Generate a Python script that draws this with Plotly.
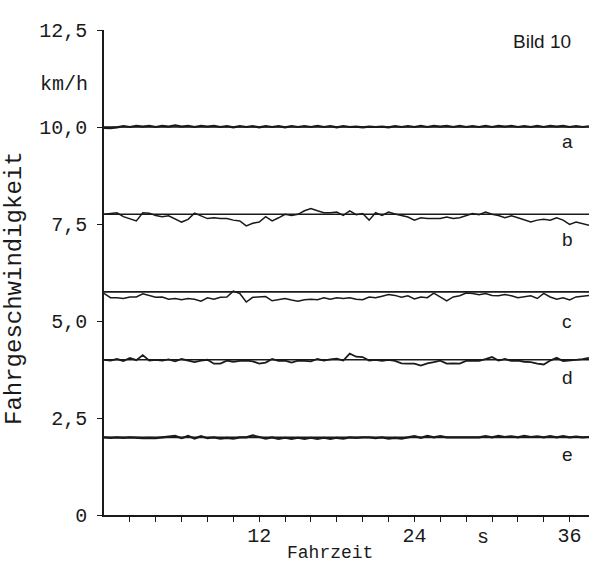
import plotly.graph_objects as go

# ---- data ----
time_s = [i * 0.5 for i in range(76)]  # sample times 0 .. 37.5 s

speed_a = [9.98, 9.97, 9.99, 10.02, 10.00, 10.03, 10.01, 10.03, 10.00, 10.03,
           10.01, 10.04, 10.01, 10.03, 10.00, 10.03, 10.01, 10.03, 10.00, 10.02,
           9.99, 10.02, 10.00, 10.02, 9.99, 10.02, 10.00, 10.02, 9.99, 10.02,
           10.00, 10.02, 10.00, 10.03, 10.00, 10.02, 9.99, 10.02, 10.00, 10.01,
           9.99, 10.01, 10.00, 10.01, 9.99, 10.02, 10.00, 10.02, 10.00, 10.03,
           10.00, 10.03, 10.01, 10.03, 10.00, 10.03, 10.00, 10.02, 10.00, 10.03,
           10.00, 10.03, 10.01, 10.03, 10.00, 10.02, 10.00, 10.03, 10.00, 10.03,
           10.01, 10.03, 10.00, 10.02, 10.00, 10.02]

speed_b = [7.75, 7.77, 7.79, 7.69, 7.64, 7.58, 7.79, 7.78, 7.72, 7.69,
           7.71, 7.64, 7.55, 7.62, 7.78, 7.71, 7.64, 7.66, 7.64, 7.64,
           7.60, 7.58, 7.45, 7.52, 7.55, 7.69, 7.58, 7.66, 7.75, 7.72,
           7.75, 7.84, 7.90, 7.84, 7.79, 7.79, 7.81, 7.72, 7.84, 7.74,
           7.77, 7.60, 7.79, 7.72, 7.81, 7.76, 7.72, 7.68, 7.60, 7.66,
           7.64, 7.64, 7.64, 7.68, 7.64, 7.66, 7.72, 7.77, 7.74, 7.81,
           7.75, 7.72, 7.66, 7.71, 7.66, 7.60, 7.55, 7.60, 7.62, 7.60,
           7.66, 7.60, 7.49, 7.55, 7.51, 7.47]

speed_c = [5.71, 5.60, 5.60, 5.58, 5.62, 5.62, 5.70, 5.66, 5.61, 5.62,
           5.56, 5.58, 5.55, 5.58, 5.56, 5.51, 5.60, 5.56, 5.61, 5.62,
           5.77, 5.71, 5.49, 5.61, 5.62, 5.63, 5.52, 5.55, 5.58, 5.54,
           5.51, 5.55, 5.56, 5.55, 5.60, 5.56, 5.60, 5.58, 5.60, 5.56,
           5.55, 5.62, 5.60, 5.64, 5.68, 5.66, 5.61, 5.65, 5.57, 5.62,
           5.60, 5.72, 5.62, 5.52, 5.62, 5.65, 5.72, 5.71, 5.68, 5.71,
           5.66, 5.65, 5.68, 5.65, 5.60, 5.62, 5.65, 5.58, 5.71, 5.62,
           5.56, 5.60, 5.54, 5.62, 5.64, 5.66]

speed_d = [4.00, 3.98, 4.02, 3.97, 4.05, 3.99, 4.12, 3.98, 4.00, 3.98,
           4.01, 3.96, 4.02, 3.98, 3.94, 3.98, 4.00, 3.90, 3.90, 3.98,
           3.95, 3.97, 3.98, 3.96, 3.90, 3.93, 4.02, 3.97, 3.98, 3.93,
           3.98, 3.97, 3.96, 4.02, 3.98, 4.01, 4.03, 3.98, 4.16, 4.08,
           4.07, 3.98, 4.00, 3.97, 4.00, 3.97, 3.91, 3.90, 3.90, 3.85,
           3.91, 3.94, 3.98, 3.90, 3.91, 3.90, 3.97, 3.98, 3.97, 4.02,
           4.07, 3.98, 4.02, 3.97, 3.98, 3.95, 3.94, 3.90, 3.88, 3.98,
           4.05, 3.97, 3.98, 4.00, 4.02, 4.05]

speed_e = [2.00, 1.99, 2.00, 1.99, 2.00, 1.99, 1.98, 1.99, 1.98, 2.00,
           2.02, 2.04, 1.98, 2.04, 1.97, 2.03, 1.98, 2.00, 1.97, 1.99,
           1.97, 2.00, 2.00, 2.05, 2.01, 1.97, 2.00, 1.96, 1.99, 1.96,
           1.99, 1.96, 1.99, 1.96, 1.99, 1.96, 1.99, 1.97, 2.00, 1.99,
           2.00, 2.00, 1.98, 2.00, 1.97, 1.99, 1.97, 2.00, 2.03, 1.99,
           2.04, 2.00, 2.03, 2.00, 2.00, 2.00, 2.01, 2.00, 2.00, 2.03,
           2.00, 2.04, 2.01, 2.03, 2.00, 2.04, 2.01, 2.03, 2.00, 2.03,
           2.00, 2.03, 2.00, 2.02, 2.00, 2.01]

ref_times = [0, 37.5]
ref_levels = [10.0, 7.75, 5.75, 4.0, 2.0]
series_names = ["a", "b", "c", "d", "e"]
label_time = 35.8
label_levels = [9.62, 7.09, 4.98, 3.55, 1.55]

y_tickvals = [0, 2.5, 5.0, 7.5, 10.0, 12.5]
y_ticktext = ["0", "2,5", "5,0", "7,5", "10,0", "12,5"]
x_tickvals = [2, 4, 6, 8, 10, 12, 14, 16, 18, 20, 22, 24, 26, 28, 30, 32, 34, 36]
x_ticktext = ["", "", "", "", "", "12", "", "", "", "", "", "24", "", "", "", "", "", "36"]
unit_time_pos = 29.3
xtitle_pos = 17.5
ytitle_pos = 5.85
kmh_pos = 11.1
bild_pos = 12.2

INK = "#1a1a1a"
MONO = "Liberation Mono, DejaVu Sans Mono, monospace"
SANS = "Liberation Sans, Arial, sans-serif"

fig = go.Figure()

for lvl in ref_levels:
    fig.add_trace(go.Scatter(x=ref_times, y=[lvl, lvl], mode="lines",
                             line=dict(color=INK, width=1.6), hoverinfo="skip",
                             showlegend=False))

widths = [2.2, 1.5, 1.5, 1.8, 2.2]
for name, ys, w in zip(series_names, [speed_a, speed_b, speed_c, speed_d, speed_e], widths):
    fig.add_trace(go.Scatter(x=time_s, y=ys, mode="lines", name=name,
                             line=dict(color=INK, width=w), showlegend=False))

for name, lv in zip(series_names, label_levels):
    fig.add_annotation(x=label_time, y=lv, text=name, showarrow=False,
                       font=dict(family=SANS, size=19, color=INK),
                       xanchor="center", yanchor="middle")

fig.add_annotation(x=1.0, xref="paper", y=bild_pos, yref="y", text="Bild 10",
                   showarrow=False, xanchor="right", yanchor="middle", xshift=-16,
                   font=dict(family=SANS, size=19, color=INK))
fig.add_annotation(x=0, xref="paper", y=kmh_pos, yref="y", text="km/h",
                   showarrow=False, xanchor="right", yanchor="middle", xshift=-14,
                   font=dict(family=MONO, size=20, color=INK))
fig.add_annotation(x=unit_time_pos, y=0, yref="paper", text="s", showarrow=False,
                   xanchor="center", yanchor="top", yshift=-9,
                   font=dict(family=MONO, size=20, color=INK))
fig.add_annotation(x=xtitle_pos, y=0, yref="paper", text="Fahrzeit", showarrow=False,
                   xanchor="center", yanchor="top", yshift=-26,
                   font=dict(family=MONO, size=18, color=INK))
fig.add_annotation(x=0, xref="paper", y=ytitle_pos, yref="y", text="Fahrgeschwindigkeit",
                   showarrow=False, textangle=-90, xanchor="center", yanchor="middle",
                   xshift=-90, font=dict(family=MONO, size=24, color=INK))

fig.update_layout(
    width=591, height=566,
    margin=dict(l=104, r=2, t=30, b=51),
    paper_bgcolor="white", plot_bgcolor="white",
    font=dict(family=MONO, color=INK),
    xaxis=dict(range=[0, 37.5], showgrid=False, zeroline=False,
               showline=True, linecolor=INK, linewidth=1.6,
               ticks="outside", ticklen=5, tickwidth=1.4, tickcolor=INK,
               tickvals=x_tickvals, ticktext=x_ticktext,
               tickfont=dict(family=MONO, size=20, color=INK),
               ticklabelstandoff=-4),
    yaxis=dict(range=[0, 12.5], showgrid=False, zeroline=False,
               showline=True, linecolor=INK, linewidth=1.6,
               ticks="outside", ticklen=5, tickwidth=1.4, tickcolor=INK,
               tickvals=y_tickvals, ticktext=y_ticktext,
               tickfont=dict(family=MONO, size=20, color=INK),
               ticklabelstandoff=6),
)

fig.write_html("out.html")
